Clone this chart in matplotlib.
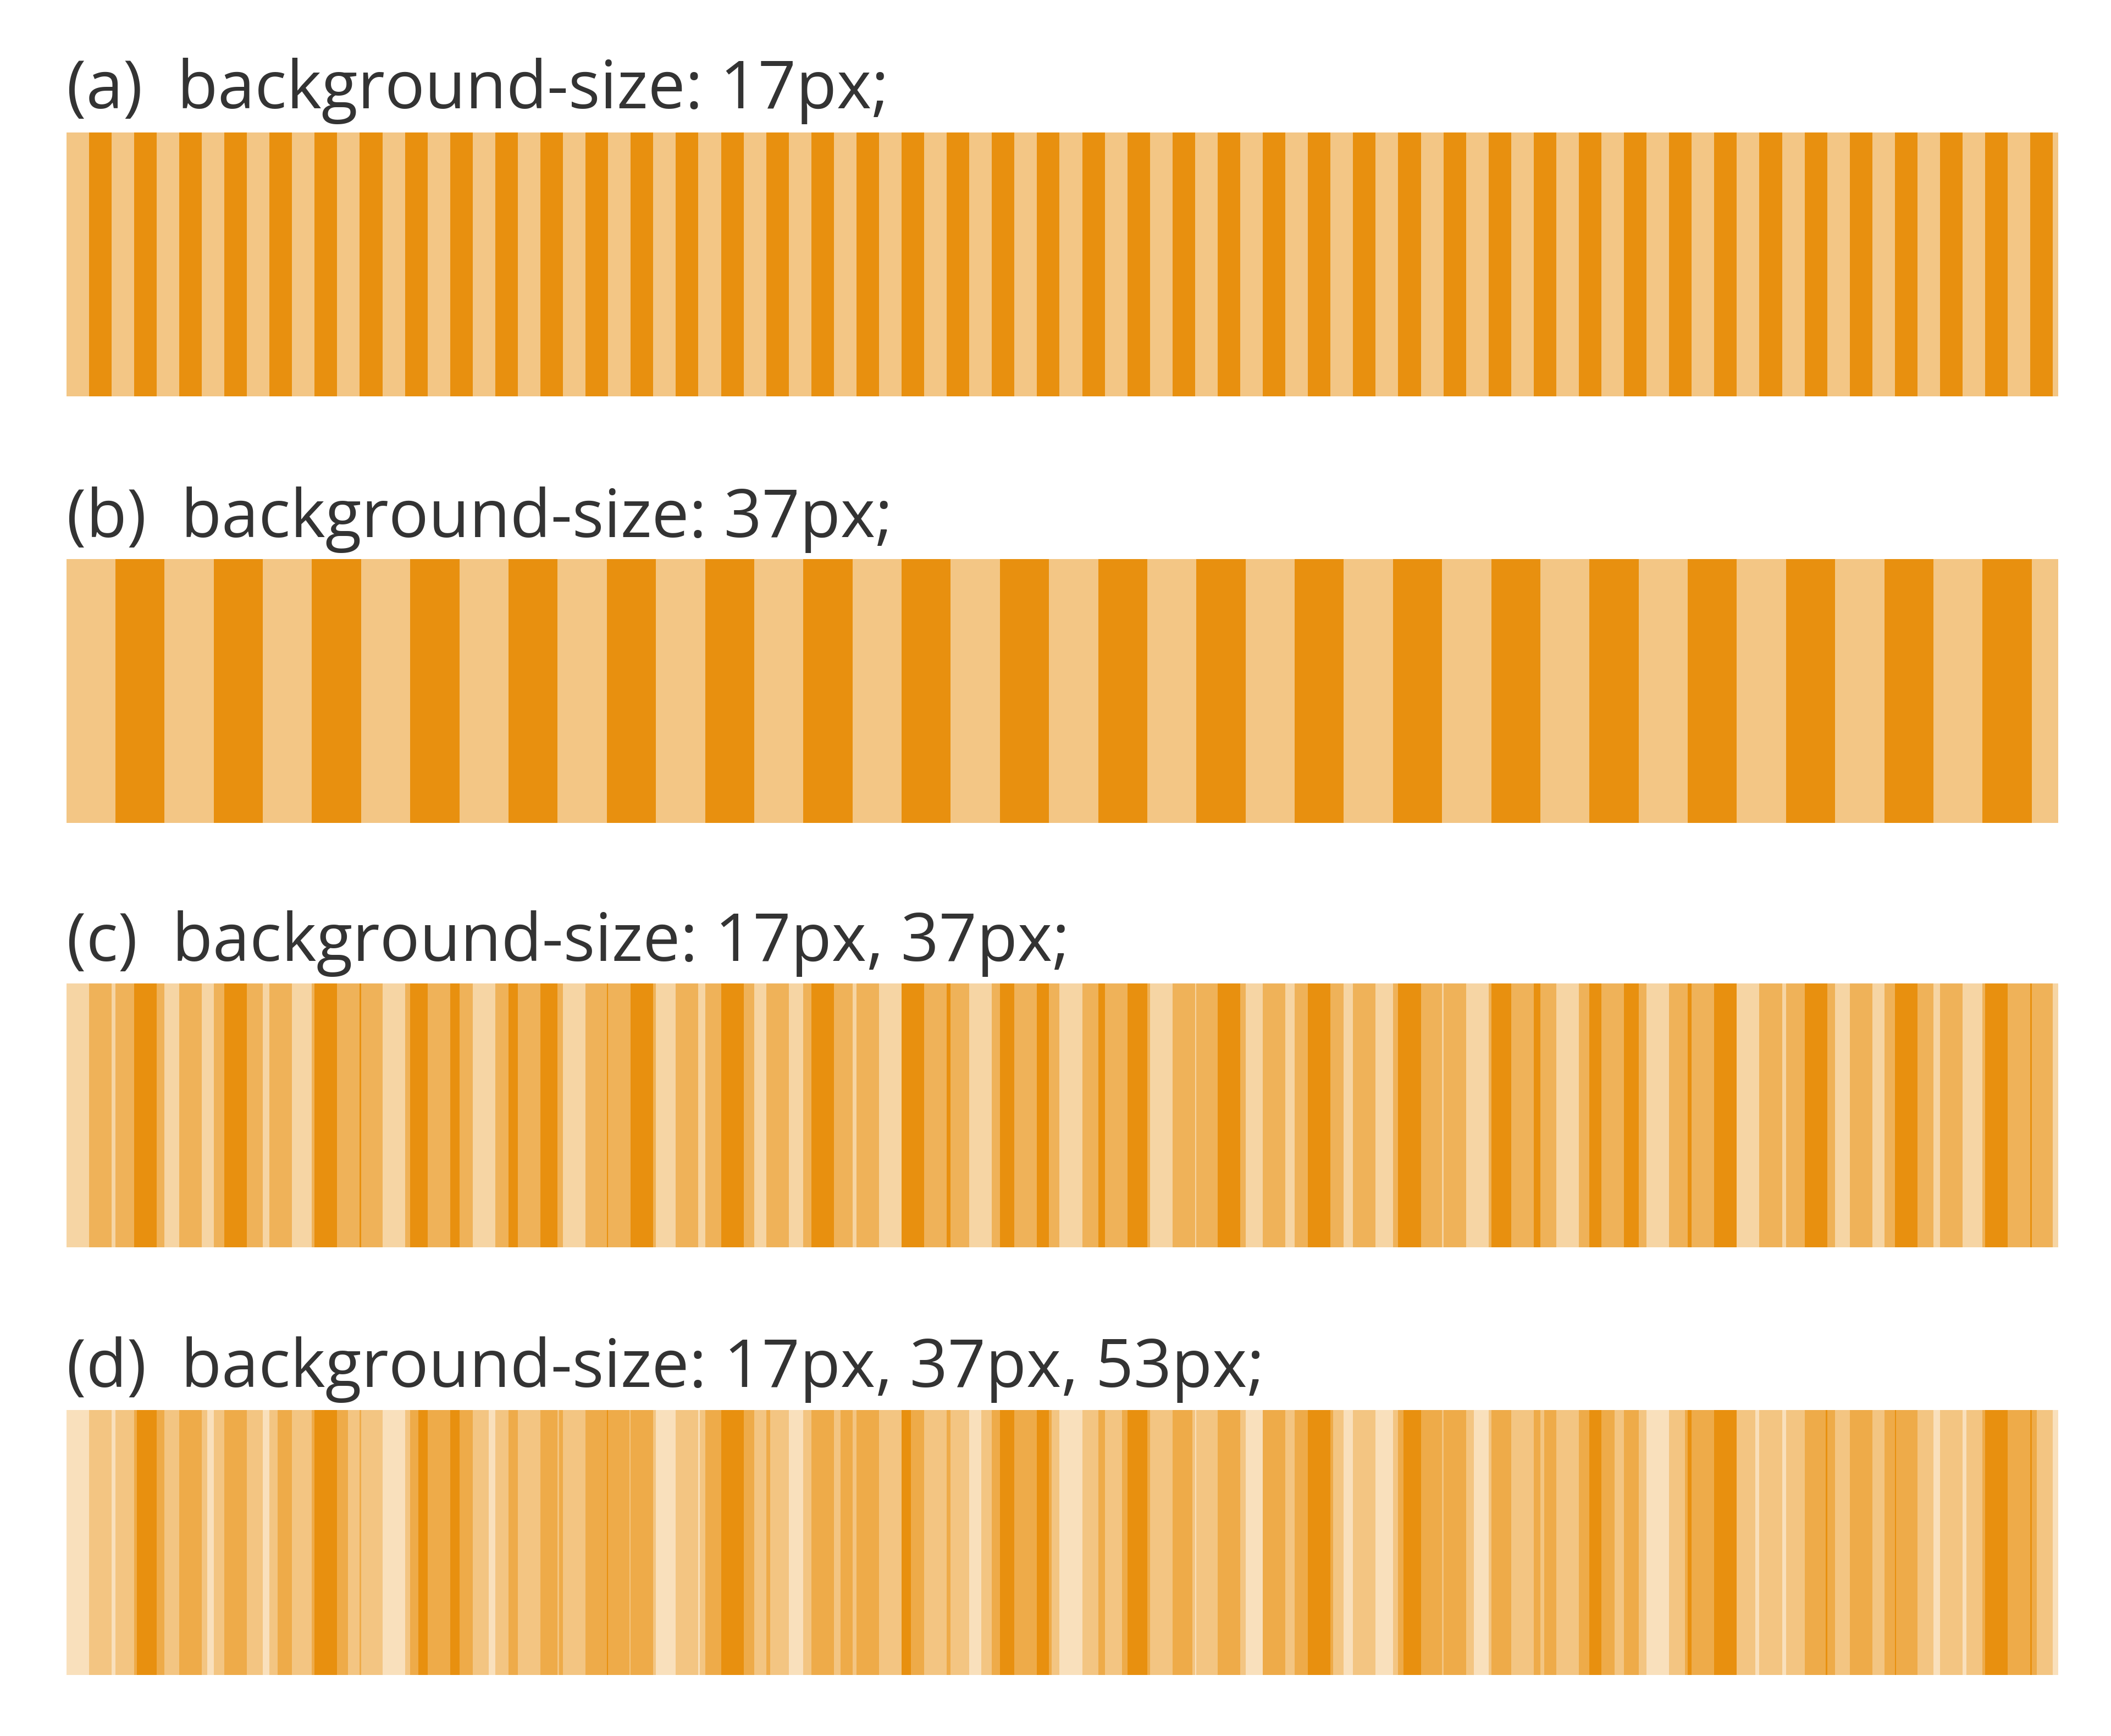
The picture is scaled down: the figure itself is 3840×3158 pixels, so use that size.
import matplotlib
matplotlib.use("Agg")
import matplotlib.pyplot as plt
import numpy as np

labels = ["(a)  background-size: 17px;", "(b)  background-size: 37px;",
          "(c)  background-size: 17px, 37px;", "(d)  background-size: 17px, 37px, 53px;"]
periods = [[17], [37], [17, 37], [17, 37, 53]]
light_white = {1: 0.49, 2: 0.62, 3: 0.72}
total_width = 750
orange = np.array([0xe8, 0x90, 0x0f]) / 255.0

fig = plt.figure(figsize=(12.8, 10.5267), dpi=300)
H = 1283.0
rows = [(98, 293, 80), (413, 608, 397), (727, 922, 710), (1042, 1238, 1025)]
left, right = 49 / 1560, 1521 / 1560

for lab, per, (yt, yb, ybase) in zip(labels, periods, rows):
    ax = fig.add_axes([left, 1 - yb / H, right - left, (yb - yt) / H])
    ax.set_xlim(0, total_width); ax.set_ylim(0, 1); ax.axis("off")
    pts = {0.0, float(total_width)}
    for p in per:
        pts.update(np.arange(0, total_width, p / 2.0).tolist())
    pts = sorted(x for x in pts if x <= total_width)
    n = len(per)
    lefts, widths, cols = [], [], []
    for a, b in zip(pts[:-1], pts[1:]):
        m = (a + b) / 2
        k = sum(1 for p in per if (m % p) >= p / 2)
        w = light_white[n] * (1 - k / n)
        lefts.append(a); widths.append(b - a)
        cols.append(tuple(orange * (1 - w) + w))
    ax.bar(lefts, 1, width=widths, align="edge", color=cols, linewidth=0, antialiased=False)
    fig.text(left, 1 - ybase / H, lab, fontsize=29, family="Open Sans",
             color="#333333", va="baseline", ha="left")

fig.savefig("out.png", dpi=300, facecolor="white")
